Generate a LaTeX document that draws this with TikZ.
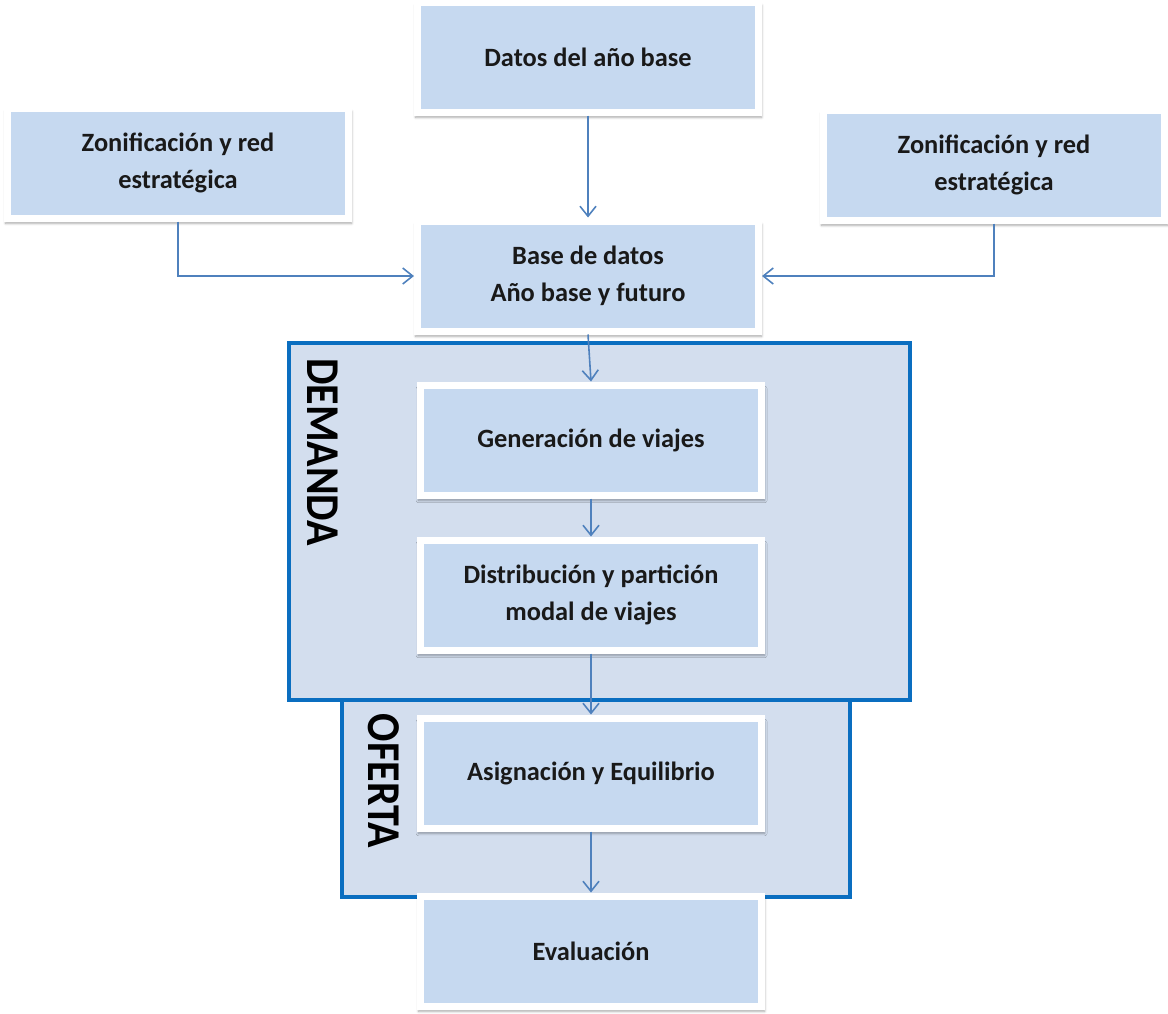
\documentclass[tikz,border=0pt]{standalone}
\usepackage{fontspec}
\setmainfont{Carlito}
\usetikzlibrary{arrows.meta,shadows.blur}

\definecolor{boxfill}{HTML}{C6D9F0}
\definecolor{panelfill}{HTML}{D3DEEE}
\definecolor{panelline}{HTML}{0A6EC0}
\definecolor{flowline}{HTML}{4F81BD}

\begin{document}
\begin{tikzpicture}[x=0.5pt,y=-0.5pt]
  \tikzstyle{stage}=[rectangle, fill=boxfill, draw=white, line width=3.5pt,
    minimum width=170.5pt, minimum height=55pt, align=center,
    font=\bfseries\fontsize{13.2}{18.5}\selectfont, text=black!90,
    blur shadow={shadow xshift=0.3pt, shadow yshift=-2.2pt, shadow scale=1.015,
      shadow opacity=35, shadow blur steps=6, shadow blur radius=1.2pt}]
  \tikzstyle{panel}=[fill=panelfill, draw=panelline, line width=1.6pt]
  \tikzstyle{paneltext}=[rotate=-90, font=\bfseries\fontsize{21}{21}\selectfont, yscale=1.12]
  \tikzstyle{flow}=[draw=flowline, line width=0.8pt, -{Straight Barb[length=5pt,width=8pt]}]
  \useasboundingbox (0,0) rectangle (1168,1013);
  % bloques de demanda y oferta
  \draw[panel] (289,343) rectangle (910,700);
  \draw[panel] (342,700) rectangle (850,897);
  \node[paneltext] (demanda) at (323,452) {DEMANDA};
  \node[paneltext] (oferta) at (384,781) {OFERTA};
  % etapas
  \node[stage] (datos) at (588,57) {Datos del año base};
  \node[stage] (zonizq) at (178,163) {Zonificación y red\\estratégica};
  \node[stage] (zonder) at (994,165) {Zonificación y red\\estratégica};
  \node[stage] (basedatos) at (588,276) {Base de datos\\Año base y futuro};
  \node[stage] (generacion) at (591,440) {Generación de viajes};
  \node[stage] (distribucion) at (591,595) {Distribución y partición\\modal de viajes};
  \node[stage] (asignacion) at (591,773) {Asignación y Equilibrio};
  \node[stage] (evaluacion) at (591,951) {Evaluación};
  % flechas
  \draw[flow] (datos.south) -- (basedatos.north);
  \draw[flow] (zonizq.south) |- (basedatos.west);
  \draw[flow] (zonder.south) |- (basedatos.east);
  \draw[flow] (basedatos.south) -- (generacion.north);
  \draw[flow] (generacion.south) -- (distribucion.north);
  \draw[flow] (distribucion.south) -- (asignacion.north);
  \draw[flow] (asignacion.south) -- (evaluacion.north);
\end{tikzpicture}
\end{document}
